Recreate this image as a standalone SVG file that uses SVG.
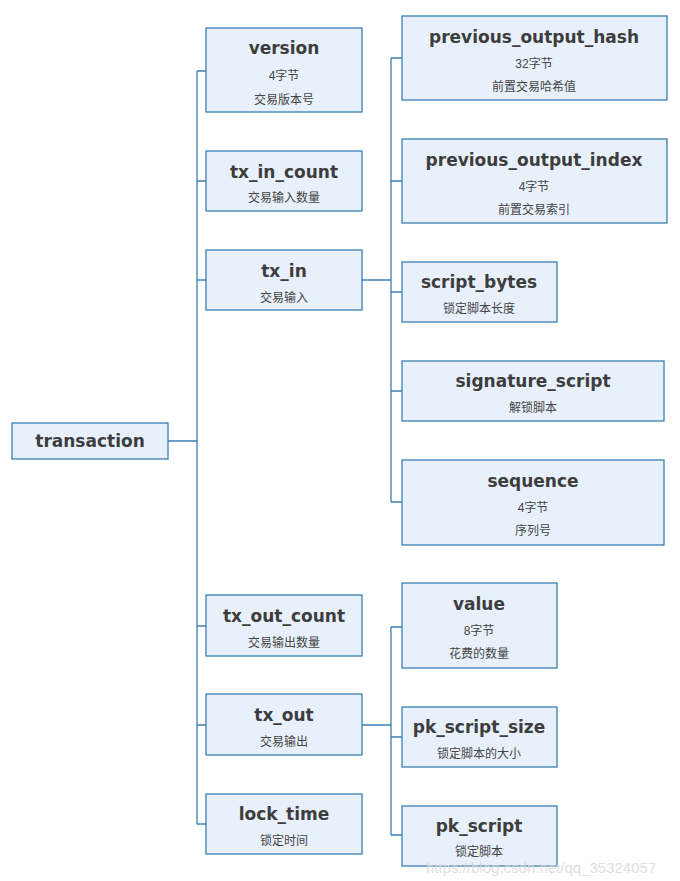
<svg xmlns="http://www.w3.org/2000/svg" width="680" height="881" viewBox="0 0 680 881">
<style>
.box{fill:#e8f1fb;stroke:#3b80b4;stroke-width:1.3}
.t{font-family:"DejaVu Sans","Liberation Sans",sans-serif;font-weight:bold;font-size:17px;fill:#3d3d3d;text-anchor:middle}
.s{font-family:"Liberation Sans","Noto Sans CJK SC",sans-serif;font-size:12px;fill:#444;text-anchor:middle}
.c{fill:none;stroke:#3b80b4;stroke-width:1.3}
.wm{font-family:"Liberation Sans",sans-serif;font-size:15px;fill:#d8d8d8;opacity:0.8}
</style>
<rect width="680" height="881" fill="#fff"/>
<g id="connectors">
<path class="c" d="M168 441H197M197 71V824M197 71H206M197 181H206M197 280H206M197 626H206M197 725H206M197 824H206"/>
<path class="c" d="M362 280H391M391 58V502M391 58H402M391 181H402M391 292H402M391 391H402M391 502H402"/>
<path class="c" d="M362 725H391M391 627V835M391 627H402M391 737H402M391 835H402"/>
</g>
<g id="transaction"><rect class="box" x="12" y="423" width="156" height="36"/><text class="t" x="90" y="447">transaction</text></g>
<g id="version"><rect class="box" x="206" y="28" width="156" height="84"/><text class="t" x="284" y="54">version</text><text class="s" x="284" y="80">4字节</text><text class="s" x="284" y="104">交易版本号</text></g>
<g id="tx_in_count"><rect class="box" x="206" y="151" width="156" height="60"/><text class="t" x="284" y="178">tx_in_count</text><text class="s" x="284" y="202">交易输入数量</text></g>
<g id="tx_in"><rect class="box" x="206" y="250" width="156" height="60"/><text class="t" x="284" y="277">tx_in</text><text class="s" x="284" y="302">交易输入</text></g>
<g id="tx_out_count"><rect class="box" x="206" y="595" width="156" height="61"/><text class="t" x="284" y="622">tx_out_count</text><text class="s" x="284" y="647">交易输出数量</text></g>
<g id="tx_out"><rect class="box" x="206" y="694" width="156" height="61"/><text class="t" x="284" y="721">tx_out</text><text class="s" x="284" y="746">交易输出</text></g>
<g id="lock_time"><rect class="box" x="206" y="794" width="156" height="60"/><text class="t" x="284" y="820">lock_time</text><text class="s" x="284" y="845">锁定时间</text></g>
<g id="previous_output_hash"><rect class="box" x="402" y="16" width="265" height="84"/><text class="t" x="534" y="43">previous_output_hash</text><text class="s" x="534" y="68">32字节</text><text class="s" x="534" y="91">前置交易哈希值</text></g>
<g id="previous_output_index"><rect class="box" x="402" y="139" width="265" height="84"/><text class="t" x="534" y="166">previous_output_index</text><text class="s" x="534" y="191">4字节</text><text class="s" x="534" y="214">前置交易索引</text></g>
<g id="script_bytes"><rect class="box" x="402" y="262" width="155" height="60"/><text class="t" x="479" y="288">script_bytes</text><text class="s" x="479" y="313">锁定脚本长度</text></g>
<g id="signature_script"><rect class="box" x="402" y="361" width="262" height="60"/><text class="t" x="533" y="387">signature_script</text><text class="s" x="533" y="412">解锁脚本</text></g>
<g id="sequence"><rect class="box" x="402" y="460" width="262" height="85"/><text class="t" x="533" y="487">sequence</text><text class="s" x="533" y="512">4字节</text><text class="s" x="533" y="535">序列号</text></g>
<g id="value"><rect class="box" x="402" y="583" width="155" height="85"/><text class="t" x="479" y="610">value</text><text class="s" x="479" y="635">8字节</text><text class="s" x="479" y="658">花费的数量</text></g>
<g id="pk_script_size"><rect class="box" x="402" y="707" width="155" height="60"/><text class="t" x="479" y="733">pk_script_size</text><text class="s" x="479" y="758">锁定脚本的大小</text></g>
<g id="pk_script"><rect class="box" x="402" y="806" width="155" height="60"/><text class="t" x="479" y="832">pk_script</text><text class="s" x="479" y="856">锁定脚本</text></g>
<text class="wm" x="426" y="873">https://blog.csdn.net/qq_35324057</text>
</svg>
